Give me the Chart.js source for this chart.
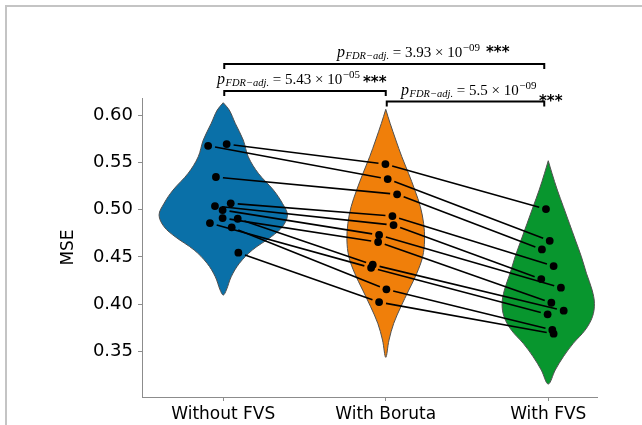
<!DOCTYPE html>
<html>
<head>
<meta charset="utf-8">
<script src="https://cdn.jsdelivr.net/npm/chart.js@4.4.1/dist/chart.umd.min.js"></script>
<style>
  html, body { margin: 0; padding: 0; background: #fff; }
  #wrap { position: relative; width: 642px; height: 425px; overflow: hidden; }
  #frame { position: absolute; left: 5px; top: 5px; right: 0; bottom: 0;
           border-top: 2px solid #c4c4c4; border-left: 2px solid #c4c4c4; }
  #chart { position: absolute; left: 0; top: 0; }
</style>
</head>
<body>
<div id="wrap">
  <div id="frame"></div>
  <canvas id="chart" width="642" height="425"></canvas>
</div>
<script>
const categories = ['Without FVS', 'With Boruta', 'With FVS'];
const yTicks = [0.35, 0.40, 0.45, 0.50, 0.55, 0.60];
const violinColors = ['#0a70a8', '#f07f0a', '#08962e'];

// MSE per run, index i is the same run in every group
const mseWithout = [0.5693, 0.5675, 0.5345, 0.5067, 0.5038, 0.4996, 0.4911, 0.4904, 0.4858, 0.4813, 0.4545];
const mseBoruta  = [0.5482, 0.5323, 0.5162, 0.4932, 0.4837, 0.4732, 0.4658, 0.4418, 0.4386, 0.4158, 0.4023];
const mseFvs     = [0.5006, 0.4671, 0.4580, 0.4404, 0.4266, 0.4175, 0.4016, 0.3932, 0.3894, 0.3728, 0.3689];

// strip plot jitter (category units)
const jitterWithout = [0.021, -0.093, -0.045, 0.046, -0.051, -0.004, -0.004, 0.089, -0.082, 0.052, 0.093];
const jitterBoruta  = [-0.002, 0.012, 0.070, 0.041, 0.048, -0.041, -0.047, -0.080, -0.090, 0.004, -0.041];
const jitterFvs     = [-0.014, 0.009, -0.039, 0.033, -0.043, 0.078, 0.019, 0.095, -0.004, 0.025, 0.033];

// violin outlines: MSE level and half width of the density (category units)
const violinWithoutY = [0.613, 0.6053, 0.5912, 0.5736, 0.5559, 0.5384, 0.5207, 0.5067, 0.4943, 0.4819, 0.4714, 0.4573, 0.4432, 0.4291, 0.4150, 0.4097];
const violinWithoutW = [0, 0.037, 0.074, 0.123, 0.154, 0.216, 0.309, 0.364, 0.395, 0.364, 0.296, 0.179, 0.099, 0.049, 0.019, 0];
const violinBorutaY  = [0.6060, 0.5912, 0.5736, 0.5559, 0.5384, 0.5207, 0.5031, 0.4855, 0.4679, 0.4502, 0.4327, 0.4150, 0.3974, 0.3798, 0.3622, 0.3439];
const violinBorutaW  = [0, 0.027, 0.062, 0.099, 0.140, 0.179, 0.213, 0.233, 0.239, 0.227, 0.191, 0.142, 0.093, 0.049, 0.020, 0];
const violinFvsY     = [0.5517, 0.5384, 0.5207, 0.5031, 0.4855, 0.4679, 0.4502, 0.4327, 0.4150, 0.4009, 0.3868, 0.3727, 0.3587, 0.3446, 0.3305, 0.3157];
const violinFvsW     = [0, 0.023, 0.056, 0.093, 0.130, 0.167, 0.204, 0.235, 0.270, 0.284, 0.272, 0.227, 0.154, 0.093, 0.043, 0];

// pairwise tests: groups compared, p value mantissa / exponent
const testPairs = [[0, 1], [1, 2], [0, 2]];
const testMantissa = ['5.43', '5.5', '3.93'];
const testExponent = ['\u221205', '\u221209', '\u221209'];
const testStars = ['***', '***', '***'];

const groups = [
  { mse: mseWithout, jitter: jitterWithout, vy: violinWithoutY, vw: violinWithoutW },
  { mse: mseBoruta, jitter: jitterBoruta, vy: violinBorutaY, vw: violinBorutaW },
  { mse: mseFvs, jitter: jitterFvs, vy: violinFvsY, vw: violinFvsW }
];

function violinOutline(center, ys, ws) {
  const pts = [];
  for (let i = 0; i < ys.length; i++) pts.push({ x: center + ws[i], y: ys[i] });
  for (let i = ys.length - 2; i >= 0; i--) pts.push({ x: center - ws[i], y: ys[i] });
  return pts;
}

const datasets = [{
  label: 'runs',
  data: groups.flatMap((g, gi) => g.mse.map((v, i) => ({ x: gi + g.jitter[i], y: v }))),
  pointRadius: 3.9,
  pointBackgroundColor: '#000',
  pointBorderWidth: 0,
  showLine: false,
  order: 0
}];
groups.forEach((g, gi) => {
  datasets.push({
    label: categories[gi],
    data: violinOutline(gi, g.vy, g.vw),
    showLine: true,
    fill: 'shape',
    backgroundColor: violinColors[gi],
    borderColor: '#505050',
    borderWidth: 1,
    tension: 0.35,
    pointRadius: 0,
    order: 1
  });
});

// paired lines, significance brackets and p value labels
const annotations = {
  id: 'annotations',
  afterDatasetsDraw(chart) {
    const { ctx, scales: { x, y } } = chart;
    ctx.save();
    ctx.strokeStyle = '#000';
    ctx.lineWidth = 1.6;
    const gap = 7;
    for (let i = 0; i < mseWithout.length; i++) {
      const pts = groups.map((g, gi) => [x.getPixelForValue(gi + g.jitter[i]), y.getPixelForValue(g.mse[i])]);
      for (let k = 0; k < 2; k++) {
        const [x0, y0] = pts[k], [x1, y1] = pts[k + 1];
        const len = Math.hypot(x1 - x0, y1 - y0);
        const ux = (x1 - x0) / len, uy = (y1 - y0) / len;
        ctx.beginPath();
        ctx.moveTo(x0 + ux * gap, y0 + uy * gap);
        ctx.lineTo(x1 - ux * gap, y1 - uy * gap);
        ctx.stroke();
      }
    }

    // bracket height, text start, text baseline, star centre
    const layout = [
      { yLine: 91, textX: 217, base: 84, starX: 363, starY: 80 },
      { yLine: 101.5, textX: 401, base: 95, starX: 539, starY: 99 },
      { yLine: 64, textX: 337, base: 57, starX: 486, starY: 50 }
    ];
    ctx.lineWidth = 2;
    testPairs.forEach(([a, b], t) => {
      const L = layout[t];
      const xa = x.getPixelForValue(a) + 1;
      const xb = x.getPixelForValue(b) - (b === 2 ? 4 : 0);
      ctx.beginPath();
      ctx.moveTo(xa, L.yLine + 5);
      ctx.lineTo(xa, L.yLine);
      ctx.lineTo(xb, L.yLine);
      ctx.lineTo(xb, L.yLine + 5);
      ctx.stroke();

      ctx.fillStyle = '#000';
      ctx.textBaseline = 'alphabetic';
      ctx.textAlign = 'left';
      let cx = L.textX;
      ctx.font = 'italic 16px "Liberation Serif"';
      ctx.fillText('p', cx, L.base);
      cx += ctx.measureText('p').width + 0.5;
      ctx.font = 'italic 10.5px "Liberation Serif"';
      ctx.fillText('FDR\u2212adj.', cx, L.base + 2);
      cx += ctx.measureText('FDR\u2212adj.').width;
      ctx.font = '15px "Liberation Serif"';
      const main = ' = ' + testMantissa[t] + ' \u00d7 10';
      ctx.fillText(main, cx, L.base);
      cx += ctx.measureText(main).width + 0.5;
      ctx.font = '11px "Liberation Serif"';
      ctx.fillText(testExponent[t], cx, L.base - 6);

      ctx.font = 'bold 15px "DejaVu Sans"';
      ctx.textBaseline = 'middle';
      ctx.fillText(testStars[t], L.starX, L.starY + 3);
    });
    ctx.restore();
  }
};

new Chart(document.getElementById('chart'), {
  type: 'scatter',
  data: { datasets },
  plugins: [annotations],
  options: {
    responsive: false,
    animation: false,
    devicePixelRatio: 1,
    layout: { padding: { left: 0, top: 98, right: 45, bottom: 0 } },
    plugins: { legend: { display: false }, tooltip: { enabled: false } },
    scales: {
      x: {
        type: 'linear',
        min: -0.5,
        max: 2.3,
        afterBuildTicks: s => { s.ticks = categories.map((c, i) => ({ value: i })); },
        afterFit: s => { s.height = 28; },
        ticks: {
          callback: (v, i) => categories[i],
          color: '#000',
          font: { family: 'DejaVu Sans', size: 17 },
          padding: 3,
          maxRotation: 0
        },
        grid: { drawOnChartArea: false, drawTicks: true, tickLength: 4, color: '#8c8c8c' },
        border: { color: '#8c8c8c', width: 1 }
      },
      y: {
        min: 0.302,
        max: 0.618,
        afterBuildTicks: s => { s.ticks = yTicks.map(v => ({ value: v })); },
        afterFit: s => { s.width = 142; },
        ticks: {
          callback: v => v.toFixed(2),
          color: '#000',
          font: { family: 'DejaVu Sans', size: 18 },
          padding: 5
        },
        grid: { drawOnChartArea: false, drawTicks: true, tickLength: 4, color: '#8c8c8c' },
        border: { color: '#8c8c8c', width: 1 },
        title: {
          display: true,
          text: 'MSE',
          color: '#000',
          font: { family: 'DejaVu Sans', size: 17 },
          padding: { top: 58, bottom: 0 }
        }
      }
    }
  }
});
</script>
</body>
</html>
